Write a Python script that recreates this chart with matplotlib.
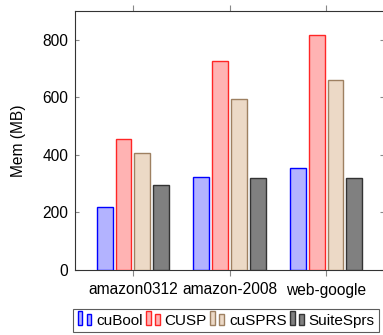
import matplotlib
matplotlib.use("Agg")
import matplotlib.pyplot as plt
import numpy as np
from matplotlib.patches import Rectangle
from matplotlib.legend_handler import HandlerBase

plt.rcParams['font.family'] = ['Liberation Sans', 'DejaVu Sans']

categories = ["amazon0312", "amazon-2008", "web-google"]
series = ["cuBool", "CUSP", "cuSPRS", "SuiteSprs"]
cuBool = [220, 323, 356]
CUSP = [455, 725, 817]
cuSPRS = [405, 595, 660]
SuiteSprs = [297, 319, 318]
yticks = [0, 200, 400, 600, 800]

values = [cuBool, CUSP, cuSPRS, SuiteSprs]
fills = [(0.7, 0.7, 1.0), (1.0, 0.7, 0.7), (0.925, 0.85, 0.775), (0.5, 0.5, 0.5)]
edges = [(0.0, 0.0, 1.0), (1.0, 0.15, 0.15), (0.62, 0.5, 0.38), (0.2, 0.2, 0.2)]

FS = 11.2
LFS = 11.0
W, H = 383, 335
fig = plt.figure(figsize=(W / 100, H / 100), dpi=100)
ax = fig.add_axes([75 / W, (H - 270) / H, (384 - 75) / W, (270 - 11) / H])

x = np.arange(len(categories))
pitch = 0.196
bw = 0.165
handles = []
for i, (vals, fc, ec) in enumerate(zip(values, fills, edges)):
    b = ax.bar(x + (i - 1.5) * pitch, vals, bw, color=fc, edgecolor=ec, linewidth=1.0,
               label=series[i], zorder=3)
    handles.append(b)

ax.set_xlim(-0.6, 2.6)
ax.set_ylim(0, 900)
ax.set_yticks(yticks)
ax.set_xticks(x)
ax.set_xticklabels(categories)
ax.tick_params(axis='y', direction='in', left=True, right=True, length=3, color='#888888',
               labelsize=FS, pad=5)
ax.tick_params(axis='x', direction='out', bottom=True, top=True, length=4, color='#888888',
               labelsize=FS, pad=5)
ax.set_ylabel("Mem (MB)", fontsize=FS, labelpad=12)
for s in ax.spines.values():
    s.set_color('#333333')
    s.set_linewidth(0.8)


class TwoBarHandler(HandlerBase):
    def create_artists(self, legend, orig_handle, xdescent, ydescent, width, height, fontsize, trans):
        p = orig_handle.patches[0]
        fc = p.get_facecolor()
        ec = p.get_edgecolor()
        bwid = width * 0.33
        r1 = Rectangle((-xdescent, -ydescent), bwid, height * 1.3, facecolor=fc, edgecolor=ec,
                       linewidth=1.0, transform=trans)
        r2 = Rectangle((-xdescent + width * 0.64, -ydescent), bwid, height * 1.0, facecolor=fc,
                       edgecolor=ec, linewidth=1.0, transform=trans)
        return [r1, r2]


leg = fig.legend(handles=handles, labels=series, ncol=4, loc='upper left',
                 bbox_to_anchor=(73 / W, 1 - 309 / H), fontsize=LFS,
                 handler_map={type(handles[0]): TwoBarHandler()},
                 handlelength=0.92, handletextpad=0.3, columnspacing=0.22,
                 frameon=True, fancybox=False, borderpad=0.3, borderaxespad=0)
leg.get_frame().set_edgecolor('#333333')
leg.get_frame().set_linewidth(0.8)

fig.savefig("out.png", dpi=100)
